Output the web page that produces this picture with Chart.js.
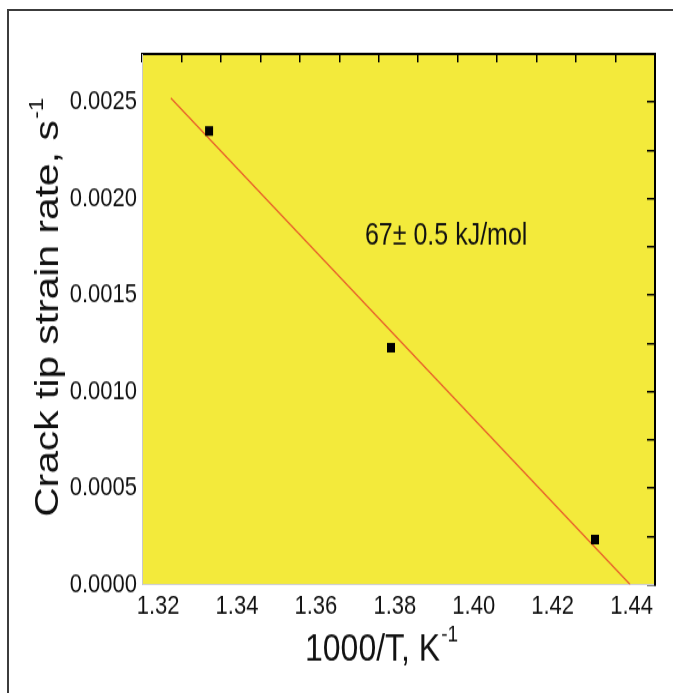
<!DOCTYPE html>
<html>
<head>
<meta charset="utf-8">
<script src="https://cdn.jsdelivr.net/npm/chart.js@4.4.1/dist/chart.umd.min.js"></script>
<style>
  html, body { margin: 0; padding: 0; background: #fff; overflow: hidden; }
  #wrap { position: relative; width: 673px; height: 693px; }
  #frame { position: absolute; left: 7px; top: 9px; width: 700px; height: 700px;
           border-left: 2px solid #3c3c3c; border-top: 2px solid #3c3c3c; }
  #chart { position: absolute; left: 0; top: 0; }
</style>
</head>
<body>
<div id="wrap">
  <div id="frame"></div>
  <!-- the source figure is stretched ~1.2x vertically, so the canvas is drawn short and scaled up -->
  <canvas id="chart" width="673" height="578" style="width:673px;height:693px;"></canvas>
</div>
<script>
// measured points: 1000/T (K^-1) vs crack tip strain rate (s^-1)
const invTemp    = [1.3270, 1.3731, 1.4248];
const strainRate = [0.002351, 0.001227, 0.000233];

// end points of the fitted line
const fitX = [1.3173, 1.4337];
const fitY = [0.002522, 0.0];

const xTickLabels = ['1.32', '1.34', '1.36', '1.38', '1.40', '1.42', '1.44'];
const yTickLabels = ['0.0000', '0.0005', '0.0010', '0.0015', '0.0020', '0.0025'];

const fitNote = '67\u00b1 0.5 kJ/mol';
const xTitle = ['1000/T, K', '-1'];
const yTitle = ['Crack tip strain rate, s', '-1'];

const X_MIN = 1.31, X_MAX = 1.44;
const Y_MIN = 0, Y_MAX = 0.00275;

const FONT = "'Liberation Sans', Arial, Helvetica, sans-serif";

/*** ======== plugins ======== ***/
const plotBg = {
    id: 'plotBg',
    beforeDraw(chart) {
        const { ctx, chartArea: a } = chart;
        ctx.save();
        ctx.fillStyle = '#f3ea3b';
        ctx.fillRect(a.left, a.top, a.right - a.left, a.bottom - a.top);
        ctx.restore();
    }
};

function drawWithSup(ctx, x, y, parts, size, supSize, rise) {
    ctx.font = size + 'px ' + FONT;
    ctx.fillText(parts[0], x, y);
    const w = ctx.measureText(parts[0]).width;
    ctx.font = supSize + 'px ' + FONT;
    ctx.fillText(parts[1], x + w + 1, y - rise);
}

const labelsPlugin = {
    id: 'labelsPlugin',
    afterDraw(chart) {
        const ctx = chart.ctx;
        const xs = chart.scales.x, ys = chart.scales.y;
        ctx.save();
        ctx.fillStyle = '#111';
        ctx.textAlign = 'left';
        ctx.textBaseline = 'alphabetic';

        // activation energy note, anchored in data space
        ctx.font = '25px ' + FONT;
        ctx.fillText(fitNote, xs.getPixelForValue(1.3665), ys.getPixelForValue(0.00176));

        // x axis title
        drawWithSup(ctx, 305, 551, xTitle, 32, 19, 16);

        // y axis title (rotated)
        ctx.translate(58, 431);
        ctx.rotate(-Math.PI / 2);
        drawWithSup(ctx, 0, 0, yTitle, 34, 20, 15);
        ctx.restore();
    }
};

/*** ======== chart ======== ***/
const ctx = document.getElementById('chart').getContext('2d');

new Chart(ctx, {
    type: 'scatter',
    data: {
        datasets: [
            {
                data: invTemp.map((v, i) => ({ x: v, y: strainRate[i] })),
                pointStyle: 'rect',
                pointRadius: 5.66,
                pointBackgroundColor: '#000',
                pointBorderWidth: 0,
                xAxisID: 'x',
                yAxisID: 'y'
            },
            {
                data: fitX.map((v, i) => ({ x: v, y: fitY[i] })),
                showLine: true,
                borderColor: '#e85a2a',
                borderWidth: 1.2,
                pointRadius: 0,
                xAxisID: 'x',
                yAxisID: 'y'
            }
        ]
    },
    options: {
        responsive: false,
        devicePixelRatio: 1,
        animation: false,
        events: [],
        layout: { padding: { left: 0, right: 18, top: 45, bottom: 0 } },
        plugins: { legend: { display: false }, tooltip: { enabled: false } },
        scales: {
            x: {
                type: 'linear', position: 'bottom', min: X_MIN, max: X_MAX,
                afterBuildTicks: s => { s.ticks = xTickLabels.map(t => ({ value: parseFloat(t) })); },
                afterFit: s => { s.height = 90.5; },
                ticks: {
                    callback: (v, i) => xTickLabels[i],
                    align: 'end', labelOffset: -2, padding: 5,
                    autoSkip: false, maxRotation: 0, minRotation: 0,
                    color: '#111', font: { family: FONT, size: 22 }
                },
                grid: { drawOnChartArea: false, drawTicks: false },
                border: { color: '#d0d0d0', width: 1 }
            },
            x2: {
                type: 'linear', position: 'top', min: X_MIN, max: X_MAX,
                afterFit: s => { s.height = 0; },
                ticks: { display: false, stepSize: 0.01, includeBounds: false },
                grid: { drawOnChartArea: false, drawTicks: true, tickLength: -7, color: '#000', lineWidth: 1.5 },
                border: { color: '#000', width: 2 }
            },
            y: {
                type: 'linear', position: 'left', min: Y_MIN, max: Y_MAX,
                afterBuildTicks: s => { s.ticks = yTickLabels.map(t => ({ value: parseFloat(t) })); },
                afterFit: s => { s.width = 142; },
                ticks: {
                    callback: (v, i) => yTickLabels[i],
                    padding: 5, autoSkip: false,
                    color: '#111', font: { family: FONT, size: 22 }
                },
                grid: { drawOnChartArea: false, drawTicks: false },
                border: { color: '#c8c8c8', width: 1 }
            },
            y2: {
                type: 'linear', position: 'right', min: Y_MIN, max: Y_MAX,
                afterFit: s => { s.width = 0; },
                ticks: { display: false, stepSize: 0.00025, includeBounds: false },
                grid: { drawOnChartArea: false, drawTicks: true, tickLength: -8, color: '#000', lineWidth: 1.5 },
                border: { color: '#000', width: 2 }
            }
        }
    },
    plugins: [plotBg, labelsPlugin]
});
</script>
</body>
</html>
